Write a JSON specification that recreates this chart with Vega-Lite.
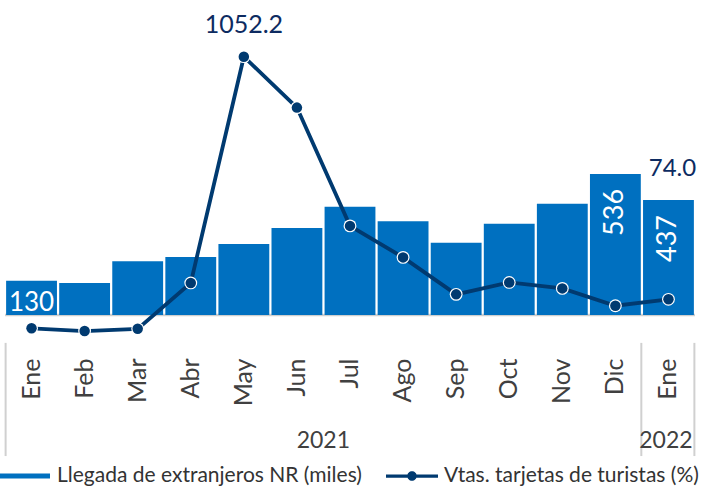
{
  "$schema": "https://vega.github.io/schema/vega-lite/v6.json",
  "autosize": {"type": "none"},
  "padding": {"left": 5, "right": 9, "top": 0, "bottom": 147},
  "width": 690,
  "height": 340,
  "background": "white",
  "config": {
    "view": {"stroke": null},
    "font": "Lato",
    "legend": {
      "orient": "none",
      "legendX": -5,
      "legendY": 451,
      "direction": "horizontal",
      "labelFont": "Lato",
      "labelFontSize": 21,
      "labelColor": "#333333",
      "labelLimit": 0,
      "symbolSize": 2500,
      "labelOffset": 7,
      "columnPadding": 24,
      "symbolStrokeWidth": 0
    }
  },
  "datasets": {
    "main": [
      {"mes": "Ene-21", "llegadas": 130, "vtas": -43},
      {"mes": "Feb-21", "llegadas": 122, "vtas": -54},
      {"mes": "Mar-21", "llegadas": 204, "vtas": -45},
      {"mes": "Abr-21", "llegadas": 220, "vtas": 140},
      {"mes": "May-21", "llegadas": 270, "vtas": 1052.2},
      {"mes": "Jun-21", "llegadas": 331, "vtas": 847},
      {"mes": "Jul-21", "llegadas": 411, "vtas": 370},
      {"mes": "Ago-21", "llegadas": 356, "vtas": 243},
      {"mes": "Sep-21", "llegadas": 275, "vtas": 94},
      {"mes": "Oct-21", "llegadas": 347, "vtas": 142},
      {"mes": "Nov-21", "llegadas": 423, "vtas": 118},
      {"mes": "Dic-21", "llegadas": 536, "vtas": 48},
      {"mes": "Ene-22", "llegadas": 437, "vtas": 74}
    ]
  },
  "layer": [
    {
      "layer": [
        {
          "data": {"values": [{"v": 0}]},
          "mark": {"type": "rule", "color": "#cfcfcf", "strokeWidth": 2.5},
          "encoding": {
            "y": {"field": "v", "type": "quantitative", "scale": {"domain": [-95, 1197], "nice": false, "zero": false}, "axis": null}
          }
        },
        {
          "data": {"name": "main"},
          "mark": {"type": "bar"},
          "encoding": {
            "x": {
              "field": "mes", "type": "nominal", "sort": null,
              "scale": {"domain": ["Ene-21","Feb-21","Mar-21","Abr-21","May-21","Jun-21","Jul-21","Ago-21","Sep-21","Oct-21","Nov-21","Dic-21","Ene-22"], "paddingInner": 0.042, "paddingOuter": 0.021},
              "axis": {
                "title": null, "labelAngle": -90, "domain": false, "ticks": false,
                "labelPadding": 18, "labelFont": "Lato", "labelFontSize": 25, "labelColor": "#404040",
                "labelExpr": "split(datum.value, '-')[0]"
              }
            },
            "y": {"field": "llegadas", "type": "quantitative", "axis": null},
            "color": {
              "datum": "Llegada de extranjeros NR (miles)",
              "type": "nominal",
              "scale": {"domain": ["Llegada de extranjeros NR (miles)", "Vtas. tarjetas de turistas (%)"], "range": ["#0070C0", "#003A70"]},
              "legend": {
                "title": null,
                "encode": {
                  "symbols": {
                    "update": {
                      "shape": {"signal": "datum.value === 'Llegada de extranjeros NR (miles)' ? 'M-1,-0.1H1V0.1H-1Z' : 'M-1.04,-0.065H1.04V0.065H-1.04Z M-0.19,0A0.19,0.19 0 1,1 0.19,0A0.19,0.19 0 1,1 -0.19,0Z'"},
                      "fill": {"scale": "color", "field": "value"},
                      "strokeWidth": {"value": 0},
                      "opacity": {"value": 1}
                    }
                  }
                }
              }
            }
          }
        },
        {
          "data": {"values": [{"mes": "Ene-21", "t": "130", "v": 130}]},
          "mark": {"type": "text", "color": "white", "fontSize": 26, "align": "center", "baseline": "alphabetic", "dy": 30},
          "encoding": {
            "x": {"field": "mes", "type": "nominal"},
            "y": {"field": "v", "type": "quantitative"},
            "text": {"field": "t"}
          }
        },
        {
          "data": {"values": [{"mes": "Dic-21", "t": "536", "v": 536}, {"mes": "Ene-22", "t": "437", "v": 437}]},
          "mark": {"type": "text", "color": "white", "fontSize": 27, "angle": 270, "align": "right", "baseline": "middle", "dx": -15},
          "encoding": {
            "x": {"field": "mes", "type": "nominal"},
            "y": {"field": "v", "type": "quantitative"},
            "text": {"field": "t"}
          }
        },
        {
          "data": {"values": [{"mes": "Ene-21", "a": -106, "b": -536}]},
          "mark": {"type": "rule", "color": "#d0d0d0", "strokeWidth": 2},
          "encoding": {
            "x": {"field": "mes", "type": "nominal", "bandPosition": -0.01},
            "y": {"field": "a", "type": "quantitative"},
            "y2": {"field": "b"}
          }
        },
        {
          "data": {"values": [{"mes": "Dic-21", "a": -106, "b": -536}, {"mes": "Ene-22", "a": -106, "b": -536}]},
          "mark": {"type": "rule", "color": "#d0d0d0", "strokeWidth": 2},
          "encoding": {
            "x": {"field": "mes", "type": "nominal", "bandPosition": 1.01},
            "y": {"field": "a", "type": "quantitative"},
            "y2": {"field": "b"}
          }
        },
        {
          "data": {"values": [{"mes": "Jun-21", "t": "2021", "v": -506}]},
          "mark": {"type": "text", "color": "#404040", "fontSize": 23, "align": "center", "baseline": "alphabetic"},
          "encoding": {
            "x": {"field": "mes", "type": "nominal", "bandPosition": 1.02},
            "y": {"field": "v", "type": "quantitative"},
            "text": {"field": "t"}
          }
        },
        {
          "data": {"values": [{"mes": "Ene-22", "t": "2022", "v": -506}]},
          "mark": {"type": "text", "color": "#404040", "fontSize": 23, "align": "center", "baseline": "alphabetic"},
          "encoding": {
            "x": {"field": "mes", "type": "nominal", "bandPosition": 0.45},
            "y": {"field": "v", "type": "quantitative"},
            "text": {"field": "t"}
          }
        }
      ]
    },
    {
      "layer": [
        {
          "data": {"name": "main"},
          "mark": {"type": "line", "strokeWidth": 3.8},
          "encoding": {
            "x": {"field": "mes", "type": "nominal", "sort": null},
            "y": {"field": "vtas", "type": "quantitative", "scale": {"domain": [-90.1, 1280.8], "nice": false, "zero": false}, "axis": null},
            "color": {"datum": "Vtas. tarjetas de turistas (%)", "type": "nominal"}
          }
        },
        {
          "data": {"name": "main"},
          "mark": {"type": "circle", "size": 165, "fill": "#ffffff", "opacity": 1, "fillOpacity": 1, "strokeWidth": 0},
          "encoding": {
            "x": {"field": "mes", "type": "nominal", "sort": null},
            "y": {"field": "vtas", "type": "quantitative"}
          }
        },
        {
          "data": {"name": "main"},
          "mark": {"type": "circle", "size": 110, "fill": "#003A70", "opacity": 1, "fillOpacity": 1, "strokeWidth": 0},
          "encoding": {
            "x": {"field": "mes", "type": "nominal", "sort": null},
            "y": {"field": "vtas", "type": "quantitative"}
          }
        },
        {
          "data": {"values": [{"mes": "May-21", "t": "1052.2", "v": 1052.2}]},
          "mark": {"type": "text", "color": "#0D2B61", "fontSize": 25, "align": "center", "baseline": "alphabetic", "dy": -23.5},
          "encoding": {
            "x": {"field": "mes", "type": "nominal"},
            "y": {"field": "v", "type": "quantitative"},
            "text": {"field": "t"}
          }
        },
        {
          "data": {"values": [{"mes": "Ene-22", "t": "74.0", "v": 74}]},
          "mark": {"type": "text", "color": "#0D2B61", "fontSize": 24, "align": "center", "baseline": "alphabetic", "dy": -123, "dx": 4},
          "encoding": {
            "x": {"field": "mes", "type": "nominal"},
            "y": {"field": "v", "type": "quantitative"},
            "text": {"field": "t"}
          }
        }
      ]
    }
  ],
  "resolve": {"scale": {"y": "independent"}}
}
